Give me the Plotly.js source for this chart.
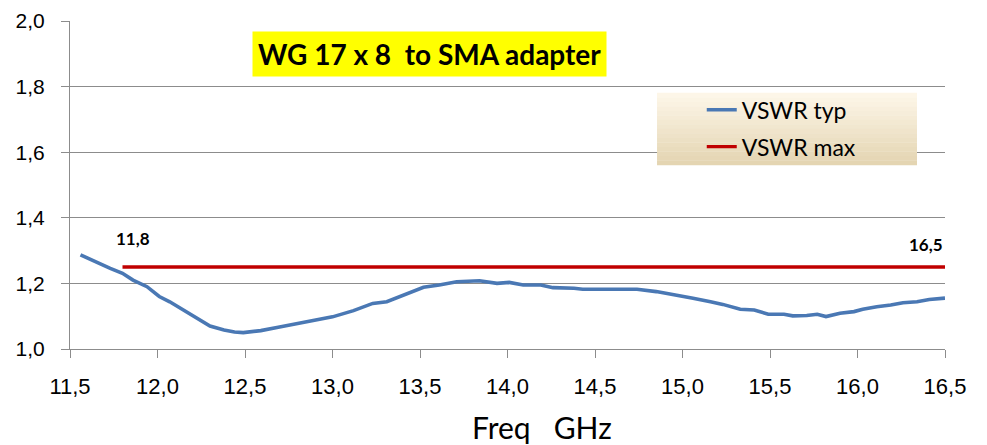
<!DOCTYPE html>
<html>
<head>
<meta charset="utf-8">
<script src="https://cdn.plot.ly/plotly-3.0.1.min.js"></script>
<style>html,body{margin:0;padding:0;background:#fff;}#chart{width:987px;height:445px;}</style>
</head>
<body>
<div id="chart"></div>
<script>
const freqTyp = [11.56, 11.63, 11.73, 11.80, 11.86, 11.94, 12.01, 12.07, 12.15, 12.22, 12.30, 12.38, 12.44, 12.49, 12.59, 12.69, 12.76, 12.89, 13.00, 13.12, 13.23, 13.31, 13.41, 13.52, 13.61, 13.71, 13.84, 13.94, 14.01, 14.09, 14.19, 14.26, 14.38, 14.43, 14.59, 14.74, 14.85, 14.97, 15.06, 15.16, 15.23, 15.33, 15.41, 15.49, 15.58, 15.63, 15.71, 15.77, 15.82, 15.90, 15.98, 16.03, 16.11, 16.19, 16.26, 16.34, 16.41, 16.50];
const vswrTyp = [1.287, 1.269, 1.246, 1.231, 1.210, 1.190, 1.160, 1.144, 1.119, 1.094, 1.070, 1.058, 1.052, 1.050, 1.056, 1.066, 1.073, 1.088, 1.098, 1.117, 1.139, 1.144, 1.165, 1.188, 1.195, 1.205, 1.208, 1.200, 1.203, 1.195, 1.195, 1.187, 1.185, 1.182, 1.182, 1.182, 1.175, 1.165, 1.155, 1.144, 1.136, 1.121, 1.119, 1.106, 1.106, 1.101, 1.102, 1.106, 1.099, 1.109, 1.114, 1.121, 1.129, 1.134, 1.141, 1.144, 1.151, 1.155];
// Maximum VSWR specification over the band
const freqMax = [11.8, 16.5];
const vswrMax = [1.25, 1.25];
const bandLabels = ["11,8", "16,5"];
const xTicks = [11.5, 12.0, 12.5, 13.0, 13.5, 14.0, 14.5, 15.0, 15.5, 16.0, 16.5];
const yTicks = [1.0, 1.2, 1.4, 1.6, 1.8, 2.0];

const traces = [
  {x: freqTyp, y: vswrTyp, type: 'scatter', mode: 'lines', name: 'VSWR typ', legendgroup: 'a',
   line: {color: '#4a78b4', width: 3.6}},
  {x: freqMax, y: vswrMax, type: 'scatter', mode: 'lines', name: 'VSWR max', legendgroup: 'b',
   line: {color: '#c00000', width: 3.4}}
];

// Legend background gradient strips (paper coords)
const shapes = [];
const lx0 = 0.6709, lx1 = 0.968, ly0 = 0.561, ly1 = 0.7814;
const nStrip = 16;
const cTop = [253, 246, 232], cBot = [228, 213, 178];
for (let i = 0; i < nStrip; i++) {
  const t = i / (nStrip - 1);
  const c = cTop.map((v, k) => Math.round(v + (cBot[k] - v) * t));
  shapes.push({type: 'rect', xref: 'paper', yref: 'paper', layer: 'above',
    x0: lx0, x1: lx1,
    y1: ly1 - (ly1 - ly0) * i / nStrip, y0: ly1 - (ly1 - ly0) * (i + 1) / nStrip - 0.001,
    fillcolor: 'rgb(' + c.join(',') + ')', line: {width: 0}});
}

const layout = {
  width: 987, height: 445,
  margin: {l: 70, r: 42, t: 21, b: 96},
  paper_bgcolor: '#ffffff', plot_bgcolor: '#ffffff',
  separators: ',.',
  showlegend: true,
  font: {family: 'Liberation Sans, Arial, sans-serif', color: '#000'},
  xaxis: {
    range: [11.5, 16.5], tickvals: xTicks, tickformat: '.1f',
    showgrid: false, zeroline: false,
    showline: true, linecolor: '#8c8c8c', linewidth: 1,
    ticks: 'outside', ticklen: 8, tickcolor: '#8c8c8c',
    tickfont: {size: 22, family: 'Liberation Sans, Arial, sans-serif', color: '#000'},
    ticklabelstandoff: 10
  },
  yaxis: {
    range: [1.0, 2.0], tickvals: yTicks, tickformat: '.1f',
    showgrid: true, gridcolor: '#8c8c8c', gridwidth: 1, zeroline: false,
    showline: true, linecolor: '#8c8c8c', linewidth: 1,
    ticks: 'outside', ticklen: 8, tickcolor: '#8c8c8c',
    tickfont: {size: 21, family: 'Liberation Sans, Arial, sans-serif', color: '#000'},
    ticklabelstandoff: 12
  },
  legend: {
    x: 0.722, y: 0.795, xanchor: 'left', yanchor: 'top',
    bgcolor: 'rgba(0,0,0,0)', borderwidth: 0,
    font: {size: 23, family: 'Lato, Calibri, sans-serif', color: '#000'},
    tracegroupgap: 4
  },
  shapes: shapes,
  annotations: [
    {text: 'WG 17 x 8\u00a0\u00a0to SMA adapter', xref: 'paper', yref: 'paper', x: 0.411, y: 0.899,
     xanchor: 'center', yanchor: 'middle', showarrow: false,
     font: {size: 28, family: 'Lato, Calibri, sans-serif', color: '#000', weight: 'bold'},
     bgcolor: '#ffff00', borderpad: 5},
    {text: '<b>' + bandLabels[0] + '</b>', x: freqMax[0], y: vswrMax[0], xref: 'x', yref: 'y',
     showarrow: false, xanchor: 'center', yanchor: 'middle', xshift: 10, yshift: 29,
     font: {size: 17, family: 'Lato, Calibri, sans-serif', color: '#000'}},
    {text: '<b>' + bandLabels[1] + '</b>', x: freqMax[1], y: vswrMax[1], xref: 'x', yref: 'y',
     showarrow: false, xanchor: 'right', yanchor: 'middle', xshift: 0, yshift: 23,
     font: {size: 17, family: 'Lato, Calibri, sans-serif', color: '#000'}},
    {text: 'Freq\u00a0\u00a0\u00a0GHz', xref: 'paper', yref: 'paper', x: 0.539, y: -0.238,
     xanchor: 'center', yanchor: 'middle', showarrow: false,
     font: {size: 30, family: 'Lato, Calibri, sans-serif', color: '#000'}}
  ]
};

Plotly.newPlot('chart', traces, layout, {staticPlot: true, displayModeBar: false});
</script>
</body>
</html>
